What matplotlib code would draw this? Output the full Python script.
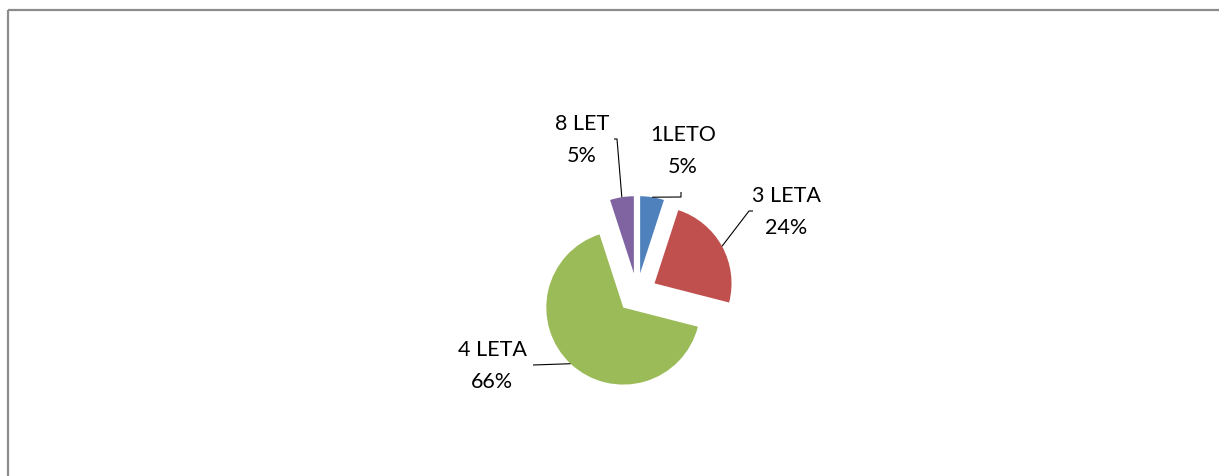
import matplotlib
matplotlib.use("Agg")
import matplotlib.pyplot as plt
import numpy as np
from matplotlib.patches import Rectangle

# ---- data ----
categories = ["1LETO", "3 LETA", "4 LETA", "8 LET"]
values = [5, 24, 66, 5]
pct_labels = ["5%", "24%", "66%", "5%"]
colors = ["#4F81BD", "#C0504D", "#9BBB59", "#8064A2"]

W, H = 1219, 477
fig = plt.figure(figsize=(W / 100, H / 100), dpi=100)
fig.patch.set_facecolor("white")
ax = fig.add_axes([0, 0, 1, 1])

# pie geometry (layout, pixel-like units)
cx, cy, r = 637, 294, 77
explode_dist = 20
explode = [explode_dist] * len(values)

# y axis inverted below, so counterclock=True appears clockwise on screen
wedges, _ = ax.pie(values, colors=colors, startangle=-90, counterclock=True,
                   center=(cx, cy), radius=r, explode=explode,
                   wedgeprops=dict(linewidth=0), frame=True)
ax.set_xlim(0, W)
ax.set_ylim(H, 0)
ax.set_aspect("equal")
ax.axis("off")

# label layout: text block centre and leader path after the wedge anchor
label_pos = [(683, 151), (786, 212), (492, 366), (582, 140)]
leader_tail = [
    [(681, 198), (681, 193)],
    [(749, 212), (753, 212)],
    [(533, 366)],
    [(617, 140), (614, 140)],
]

for w, cat, pct, pos, tail in zip(wedges, categories, pct_labels, label_pos, leader_tail):
    mid = np.deg2rad((w.theta1 + w.theta2) / 2)
    wcx, wcy = w.center
    anchor = (wcx + w.r * np.cos(mid), wcy + w.r * np.sin(mid))
    xs = [anchor[0]] + [p[0] for p in tail]
    ys = [anchor[1]] + [p[1] for p in tail]
    ax.plot(xs, ys, color="black", lw=0.8, solid_capstyle="butt")
    ax.text(pos[0], pos[1], f"{cat}\n{pct}", ha="center", va="center",
            fontsize=15.5, family="Lato", linespacing=1.8, color="black")

# chart frame (top and left edges visible)
frame = Rectangle((8, 11), W + 20, H + 20, fill=False, edgecolor="#8c8c8c", lw=1.6)
ax.add_patch(frame)

fig.savefig("out.png", dpi=100, facecolor="white")
